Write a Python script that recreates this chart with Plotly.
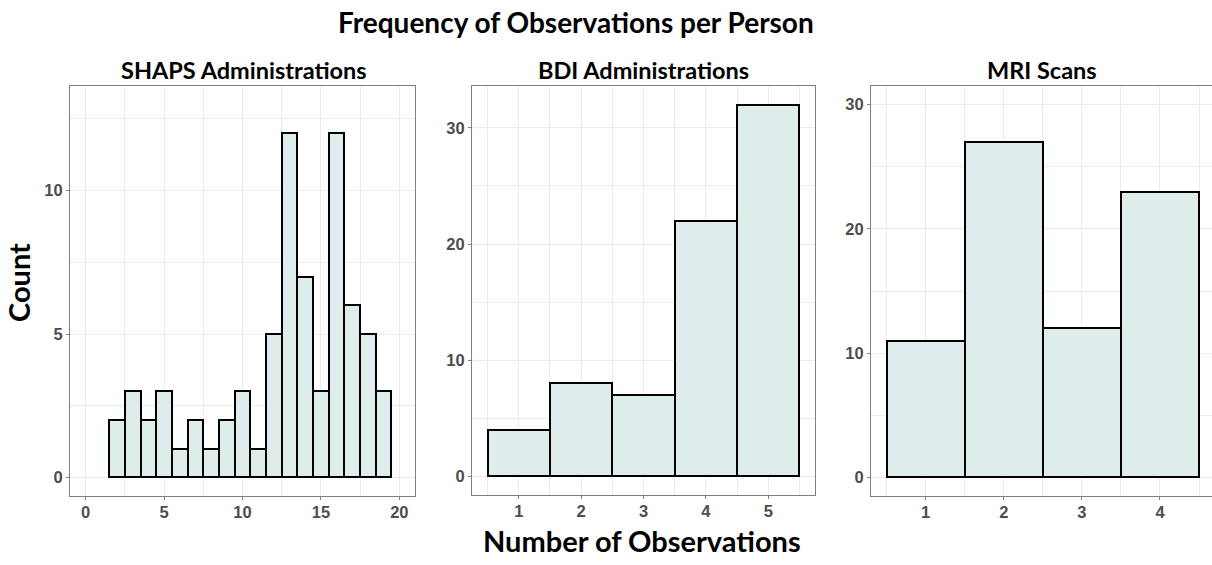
import plotly.graph_objects as go

# Counts of participants by number of observations
shaps_obs = list(range(2, 20))
shaps_counts = [2, 3, 2, 3, 1, 2, 1, 2, 3, 1, 5, 12, 7, 3, 12, 6, 5, 3]

bdi_obs = [1, 2, 3, 4, 5]
bdi_counts = [4, 8, 7, 22, 32]

mri_obs = [1, 2, 3, 4]
mri_counts = [11, 27, 12, 23]

panel_titles = ["SHAPS Administrations", "BDI Administrations", "MRI Scans"]

W, H = 1212, 565
FILL = "#dfecec"
GRID = "#ebebeb"
BORDER = "#7f7f7f"
TICK_FONT = dict(family="Liberation Sans, Arial, sans-serif", size=16.5,
                 color="#4d4d4d", weight="bold")
TITLE_FAMILY = "Lato, Open Sans, sans-serif"


def xd(a, b):
    return [a / W, b / W]


def yd(top, bottom):
    return [1 - bottom / H, 1 - top / H]


fig = go.Figure()

series = [(shaps_obs, shaps_counts), (bdi_obs, bdi_counts), (mri_obs, mri_counts)]
for i, (xs, ys) in enumerate(series, start=1):
    fig.add_trace(go.Bar(
        x=xs, y=ys, width=1,
        marker=dict(color=FILL, line=dict(color="black", width=2)),
        xaxis="x" if i == 1 else f"x{i}",
        yaxis="y" if i == 1 else f"y{i}",
        showlegend=False, hoverinfo="x+y",
    ))


def axis_common():
    return dict(
        showgrid=True, gridcolor=GRID, gridwidth=1,
        zeroline=False, showline=True, linecolor=BORDER, linewidth=1.2,
        ticks="outside", ticklen=3, tickcolor=BORDER, tickwidth=1,
        tickfont=TICK_FONT, fixedrange=True,
    )


def minor(step):
    return dict(dtick=step, tick0=0, showgrid=True, gridcolor=GRID,
                gridwidth=0.6, ticks="")


layout = dict(
    width=W, height=H,
    margin=dict(l=0, r=0, t=0, b=0),
    paper_bgcolor="white", plot_bgcolor="white",
    bargap=0,
)

# Panel 1: SHAPS
layout["xaxis"] = dict(axis_common(), domain=xd(70, 415), range=[-1, 21],
                       tickvals=[0, 5, 10, 15, 20], mirror=True, anchor="y",
                       ticklabelstandoff=-2, minor=minor(2.5))
layout["yaxis"] = dict(axis_common(), domain=yd(86, 496), range=[-0.65, 13.65],
                       tickvals=[0, 5, 10], mirror=True, anchor="x",
                       minor=minor(2.5))

# Panel 2: BDI
layout["xaxis2"] = dict(axis_common(), domain=xd(472, 815), range=[0.25, 5.75],
                        tickvals=bdi_obs, mirror=True, anchor="y2",
                        ticklabelstandoff=-2, minor=minor(0.5))
layout["yaxis2"] = dict(axis_common(), domain=yd(86, 495), range=[-1.6, 33.6],
                        tickvals=[0, 10, 20, 30], mirror=True, anchor="x2",
                        minor=minor(5))

# Panel 3: MRI (runs to the right edge of the canvas)
layout["xaxis3"] = dict(axis_common(), domain=xd(871, 1212), range=[0.3, 4.666],
                        tickvals=mri_obs, mirror=True, anchor="y3",
                        ticklabelstandoff=-2, minor=minor(0.5))
layout["yaxis3"] = dict(axis_common(), domain=yd(86, 496), range=[-1.5, 31.5],
                        tickvals=[0, 10, 20, 30], mirror=False, anchor="x3",
                        minor=minor(5))

fig.update_layout(**layout)

annotations = [
    dict(text="<b>Frequency of Observations per Person</b>", x=576 / W, y=1 - 22 / H,
         font=dict(family=TITLE_FAMILY, size=28, color="black")),
    dict(text="<b>Number of Observations</b>", x=642 / W, y=1 - 540 / H,
         font=dict(family=TITLE_FAMILY, size=29, color="black")),
    dict(text="<b>Count</b>", x=18 / W, y=1 - 283 / H, textangle=-90,
         font=dict(family=TITLE_FAMILY, size=29, color="black")),
    dict(text=f"<b>{panel_titles[0]}</b>", x=244 / W, y=1 - 70 / H,
         font=dict(family=TITLE_FAMILY, size=23.5, color="black")),
    dict(text=f"<b>{panel_titles[1]}</b>", x=643 / W, y=1 - 70 / H,
         font=dict(family=TITLE_FAMILY, size=23.5, color="black")),
    dict(text=f"<b>{panel_titles[2]}</b>", x=1042 / W, y=1 - 70 / H,
         font=dict(family=TITLE_FAMILY, size=23.5, color="black")),
]
for a in annotations:
    a.update(xref="paper", yref="paper", showarrow=False,
             xanchor="center", yanchor="middle")
fig.update_layout(annotations=annotations)

fig.write_html("out.html")
